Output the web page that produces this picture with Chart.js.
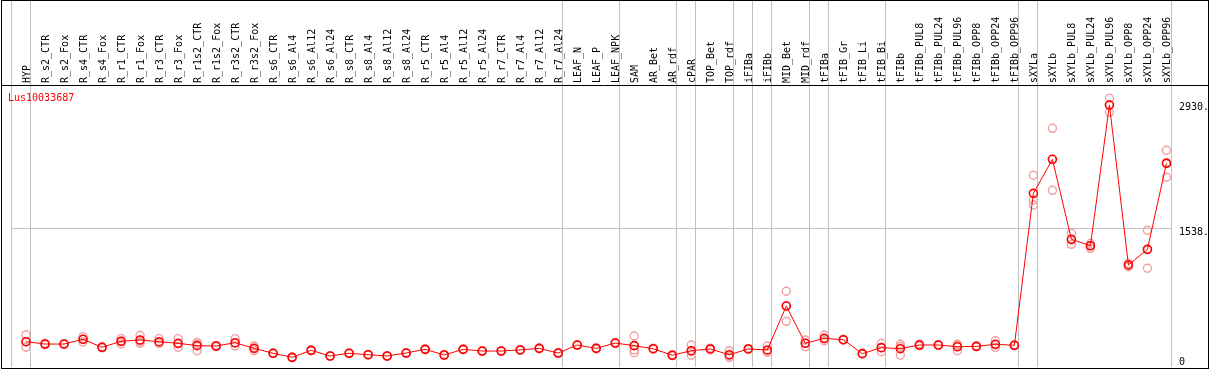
<!DOCTYPE html>
<html>
<head>
<meta charset="utf-8">
<script src="https://cdn.jsdelivr.net/npm/chart.js@4"></script>
<style>
  body { margin: 0; background: #fff; }
  canvas { display: block; }
</style>
</head>
<body>
<canvas id="geneChart" width="1209" height="370"></canvas>
<script>
const geneName = 'Lus10033687';

const samples = ['HYP', 'R_s2_CTR', 'R_s2_Fox', 'R_s4_CTR', 'R_s4_Fox', 'R_r1_CTR', 'R_r1_Fox',
    'R_r3_CTR', 'R_r3_Fox', 'R_r1s2_CTR', 'R_r1s2_Fox', 'R_r3s2_CTR', 'R_r3s2_Fox', 'R_s6_CTR',
    'R_s6_Al4', 'R_s6_Al12', 'R_s6_Al24', 'R_s8_CTR', 'R_s8_Al4', 'R_s8_Al12', 'R_s8_Al24',
    'R_r5_CTR', 'R_r5_Al4', 'R_r5_Al12', 'R_r5_Al24', 'R_r7_CTR', 'R_r7_Al4', 'R_r7_Al12',
    'R_r7_Al24', 'LEAF_N', 'LEAF_P', 'LEAF_NPK', 'SAM', 'AR_Bet', 'AR_rdf', 'cPAR', 'TOP_Bet',
    'TOP_rdf', 'iFIBa', 'iFIBb', 'MID_Bet', 'MID_rdf', 'tFIBa', 'tFIB_Gr', 'tFIB_Li', 'tFIB_Bi',
    'tFIBb', 'tFIBb_PUL8', 'tFIBb_PUL24', 'tFIBb_PUL96', 'tFIBb_OPP8', 'tFIBb_OPP24', 'tFIBb_OPP96',
    'sXYLa', 'sXYLb', 'sXYLb_PUL8', 'sXYLb_PUL24', 'sXYLb_PUL96', 'sXYLb_OPP8', 'sXYLb_OPP24',
    'sXYLb_OPP96'];

// index of the last sample in each tissue group
const groupEnds = [0, 28, 31, 34, 35, 37, 38, 39, 41, 42, 45, 52, 53, 60];

const means = [276, 250, 250, 303, 214, 280, 295, 276, 258, 232, 228, 265, 202,
    147, 102, 180, 117, 147, 131, 117, 150,
    191, 128, 191, 172, 172, 184, 202, 150,
    239, 202, 261, 232, 198, 125, 176, 195, 131, 195, 184, 673, 258,
    314, 298, 143, 210, 198, 239, 239, 220, 224, 247, 236,
    1927, 2306, 1416, 1344, 2910, 1130, 1304, 2261];

const replicates = [
    [354, 276, 214], [258, 250, 242], [255, 250, 245], [332, 303, 273], [220, 214, 208],
    [310, 280, 250], [347, 280, 258], [310, 260, 258], [310, 250, 214], [269, 251, 176],
    [235, 228, 221], [310, 257, 228], [228, 202, 176], [152, 147, 142], [106, 102, 98],
    [185, 180, 175], [121, 117, 113], [152, 147, 142], [135, 131, 127], [121, 117, 113],
    [155, 150, 145], [196, 191, 186], [133, 128, 123], [196, 191, 186], [177, 172, 167],
    [177, 172, 167], [189, 184, 179], [207, 202, 197], [155, 150, 145], [244, 239, 234],
    [207, 202, 197], [266, 261, 256], [339, 232, 184, 154], [203, 198, 193], [130, 125, 120],
    [239, 164, 125], [205, 195, 185], [176, 117, 100], [200, 195, 190], [228, 163, 161],
    [837, 679, 503], [295, 259, 220], [350, 305, 287], [303, 298, 293], [147, 143, 139],
    [258, 207, 165], [247, 222, 125], [250, 239, 228], [244, 239, 234], [247, 237, 176],
    [229, 224, 219], [287, 241, 213], [241, 236, 231], [2128, 1853, 1797], [2651, 2306, 1961],
    [1482, 1406, 1360], [1371, 1346, 1315], [2985, 2916, 2829], [1148, 1131, 1111],
    [1516, 1303, 1093], [2406, 2271, 2106]];

const yTicks = [0, 1538, 2930];

const xMin = -0.79, xMax = 60.24, yMax = 4079;
const monoFont = '"DejaVu Sans Mono", "Liberation Mono", monospace';

const repPoints = [];
replicates.forEach((reps, i) => reps.forEach(v => repPoints.push({ x: i, y: v })));
const meanPoints = means.map((v, i) => ({ x: i, y: v }));

// frame, header rule, rotated sample names and gene title
const headerPlugin = {
    id: 'header',
    afterDraw(chart) {
        const ctx = chart.ctx;
        const xs = chart.scales.x;
        ctx.save();
        ctx.strokeStyle = '#000';
        ctx.lineWidth = 1;
        ctx.strokeRect(1.5, 0.5, 1207, 368);
        ctx.beginPath();
        ctx.moveTo(1, 85.5);
        ctx.lineTo(1208, 85.5);
        ctx.stroke();

        ctx.font = '10px ' + monoFont;
        ctx.fillStyle = '#000';
        ctx.textAlign = 'left';
        ctx.textBaseline = 'middle';
        samples.forEach((s, i) => {
            ctx.save();
            ctx.translate(xs.getPixelForValue(i) + 1, 83);
            ctx.rotate(-Math.PI / 2);
            ctx.fillText(s, 0, 0);
            ctx.restore();
        });

        ctx.fillStyle = '#ff0000';
        ctx.textBaseline = 'alphabetic';
        ctx.fillText(geneName, 8, 101);
        ctx.restore();
    }
};

new Chart(document.getElementById('geneChart'), {
    type: 'scatter',
    data: {
        datasets: [
            {
                label: 'mean',
                type: 'line',
                data: meanPoints,
                borderColor: '#ff0000',
                borderWidth: 1,
                pointRadius: 4,
                pointBorderColor: '#ff0000',
                pointBorderWidth: 1.6,
                pointBackgroundColor: 'rgba(0,0,0,0)',
                tension: 0,
                order: 1
            },
            {
                label: 'replicates',
                data: repPoints,
                pointRadius: 4,
                borderColor: '#f0a0a0',
                borderWidth: 1.4,
                backgroundColor: 'rgba(0,0,0,0)',
                order: 2
            }
        ]
    },
    options: {
        responsive: false,
        animation: false,
        layout: { autoPadding: false, padding: { left: 11, top: 0, right: 0, bottom: 3.5 } },
        plugins: {
            legend: { display: false },
            tooltip: { enabled: false }
        },
        scales: {
            x: {
                type: 'linear',
                min: xMin,
                max: xMax,
                afterBuildTicks: (scale) => {
                    scale.ticks = [{ value: xMin }].concat(groupEnds.map(g => ({ value: g + 0.24 })));
                },
                afterFit: (scale) => {
                    scale.height = 0;
                    scale.paddingLeft = 0;
                    scale.paddingRight = 0;
                },
                ticks: { display: false },
                grid: { color: '#c0c0c0', drawTicks: false },
                border: { display: false }
            },
            y: {
                position: 'right',
                min: 0,
                max: yMax,
                afterBuildTicks: (scale) => {
                    scale.ticks = yTicks.map(v => ({ value: v }));
                },
                afterFit: (scale) => {
                    scale.width = 38;
                    scale.paddingTop = 0;
                    scale.paddingBottom = 0;
                },
                ticks: {
                    padding: 8,
                    color: '#000',
                    font: { family: monoFont, size: 10, lineHeight: 0.9 },
                    callback: (v) => v === 0 ? ['0', ''] : ['', v + '.']
                },
                grid: {
                    drawTicks: false,
                    color: (c) => c.tick && c.tick.value === 1538 ? '#c0c0c0' : 'rgba(0,0,0,0)'
                },
                border: { display: false }
            }
        }
    },
    plugins: [headerPlugin]
});
</script>
</body>
</html>
